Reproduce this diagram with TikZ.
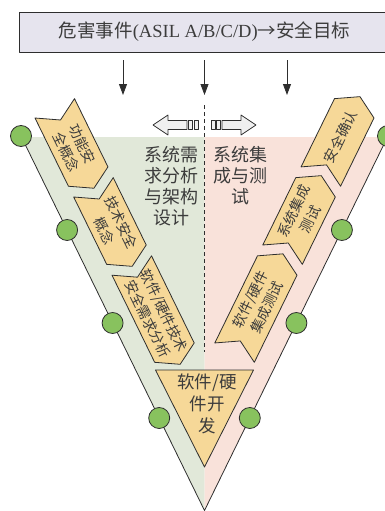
\documentclass[tikz,border=0pt]{standalone}
\usepackage{fontspec}
\setmainfont{Liberation Serif}
\newfontfamily\cjk{Noto Sans CJK SC}
\usetikzlibrary{arrows.meta}
\definecolor{hdrfill}{HTML}{E6E4EE}
\definecolor{chevfill}{HTML}{F6D898}
\definecolor{greenband}{HTML}{E1E8D9}
\definecolor{pinkband}{HTML}{F9E2DA}
\definecolor{dotgreen}{HTML}{88C25E}
\definecolor{ink}{HTML}{2E2E2E}
\definecolor{txt}{HTML}{3C3C3C}
\definecolor{arrfill}{HTML}{F0F0F0}
\begin{document}
\begin{tikzpicture}[x=1pt,y=-1pt,line join=round,
  chev/.style={fill=chevfill,draw=ink,line width=0.8pt},
  dot/.style={circle,fill=dotgreen,draw=ink,line width=0.8pt,minimum size=21pt,inner sep=0pt},
  chevtext/.style={font=\fontsize{14}{18.5}\selectfont\cjk,text=txt,align=center,inner sep=0pt},
  bigtext/.style={font=\fontsize{18}{21}\selectfont\cjk,text=txt,align=center,inner sep=0pt},
  arr/.style={draw=ink,line width=0.8pt,-{Triangle[width=8pt,length=11pt]}},
  blk/.style={draw=ink,fill=arrfill,line width=0.7pt}]
\useasboundingbox (0,0) rectangle (385,511);
% bands
\fill[greenband] (21.5,137) -- (204.5,137) -- (204.5,510.5) -- cycle;
\fill[pinkband] (204.5,137) -- (387.5,137) -- (204.5,510.5) -- cycle;
\draw[ink,line width=0.8pt] (21.5,137) -- (204.5,510.5) -- (387.5,137);
\draw[ink,line width=0.8pt,dash pattern=on 4pt off 3pt] (204.5,105) -- (204.5,352);
% header
\node[draw=ink,fill=hdrfill,line width=0.8pt,minimum width=371pt,minimum height=40pt,inner sep=0pt,
  font=\fontsize{18.5}{22}\selectfont,text=txt] (hdr) at (204.5,32)
  {{\cjk 危害事件}(ASIL A/B/C/D){\cjk →安全目标}};
\coordinate (a1e) at (123,95);
\coordinate (a2e) at (204.5,95);
\coordinate (a3e) at (287,95);
\draw[arr] ([yshift=-8pt]hdr.south -| a1e) -- (a1e);
\draw[arr] ([yshift=-8pt]hdr.south -| a2e) -- (a2e);
\draw[arr] ([yshift=-8pt]hdr.south -| a3e) -- (a3e);
% block arrows
\draw[blk] (153,125) -- (168,115) -- (168,120.5) -- (187,120.5) -- (187,129.5) -- (168,129.5) -- (168,135) -- cycle;
\draw[blk] (188.5,120.5) rectangle (192.5,129.5);
\draw[blk] (194,120.5) rectangle (198,129.5);
\draw[blk] (256,125) -- (241,115) -- (241,120.5) -- (222,120.5) -- (222,129.5) -- (241,129.5) -- (241,135) -- cycle;
\draw[blk] (216.5,120.5) rectangle (220.5,129.5);
\draw[blk] (211,120.5) rectangle (215,129.5);
% left chevrons
\begin{scope}[shift={(35,118)},x={(0.440pt,-0.898pt)},y={(0.898pt,0.440pt)}]
  \draw[chev] (0,0) -- (13,22) -- (0,44) -- (76,44) -- (89,22) -- (76,0) -- cycle;
  \node[chevtext,rotate=-64] (l1) at (44.5,22) {功能安\\全概念};
\end{scope}
\begin{scope}[shift={(73.7,197)},x={(0.440pt,-0.898pt)},y={(0.898pt,0.440pt)}]
  \draw[chev] (0,0) -- (13,22) -- (0,44) -- (75,44) -- (88,22) -- (75,0) -- cycle;
  \node[chevtext,rotate=-64] (l2) at (44,22) {技术安全\\概念};
\end{scope}
\begin{scope}[shift={(112,275.2)},x={(0.440pt,-0.898pt)},y={(0.898pt,0.440pt)}]
  \draw[chev] (0,0) -- (13,22) -- (0,44) -- (97,44) -- (110,22) -- (97,0) -- cycle;
  \node[chevtext,rotate=-64] (l3) at (55,22) {软件/硬件技术\\安全需求分析};
\end{scope}
% right chevrons
\begin{scope}[shift={(374,118)},x={(-0.440pt,-0.898pt)},y={(-0.898pt,0.440pt)}]
  \draw[chev] (0,0) -- (-13,22) -- (0,44) -- (76,44) -- (63,22) -- (76,0) -- cycle;
  \node[chevtext,rotate=64] (r1) at (31.5,22) {安全确认};
\end{scope}
\begin{scope}[shift={(335.3,197)},x={(-0.440pt,-0.898pt)},y={(-0.898pt,0.440pt)}]
  \draw[chev] (0,0) -- (-13,22) -- (0,44) -- (75,44) -- (62,22) -- (75,0) -- cycle;
  \node[chevtext,rotate=64] (r2) at (31,22) {系统集成\\测试};
\end{scope}
\begin{scope}[shift={(297,275.2)},x={(-0.440pt,-0.898pt)},y={(-0.898pt,0.440pt)}]
  \draw[chev] (0,0) -- (-13,22) -- (0,44) -- (97,44) -- (84,22) -- (97,0) -- cycle;
  \node[chevtext,rotate=64] (r3) at (42,22) {软件/硬件\\集成测试};
\end{scope}
% bottom triangle
\draw[chev] (155.5,370) -- (253.5,370) -- (204.5,467) -- cycle;
\node[bigtext,font=\fontsize{17.5}{22}\selectfont\cjk] (dev) at (207,404) {软件/硬\\件开\\发};
% centre texts
\node[bigtext] (lt) at (171,186.5) {系统需\\求分析\\与架构\\设计};
\node[bigtext] (rt) at (240,176) {系统集\\成与测\\试};
% circles
\node[dot] (cl1) at (21,136) {};
\node[dot] (cl2) at (67.1,230) {};
\node[dot] (cl3) at (112.6,323) {};
\node[dot] (cl4) at (159.2,418) {};
\node[dot] (cr1) at (388,136) {};
\node[dot] (cr2) at (341.9,230) {};
\node[dot] (cr3) at (296.4,323) {};
\node[dot] (cr4) at (249.8,418) {};
\end{tikzpicture}
\end{document}
